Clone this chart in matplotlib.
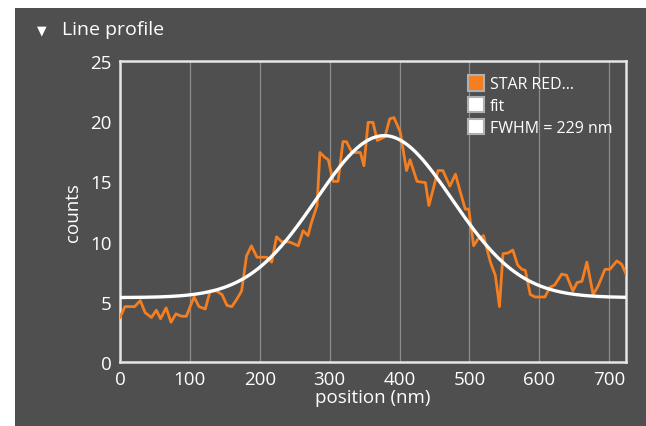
import numpy as np
import matplotlib
matplotlib.use('Agg')
import matplotlib.pyplot as plt
from matplotlib.patches import Patch

plt.rcParams['font.family'] = ['Open Sans', 'DejaVu Sans']

pos_nm = [0, 7, 21, 29, 36, 45, 52, 58, 66, 73, 80, 88, 95, 99, 106, 113, 122,
          129, 138, 146, 153, 160, 167, 174, 181, 188, 196, 210, 217, 224, 231,
          243, 255, 262, 269, 274, 282, 286, 293, 298, 305, 312, 319, 324, 332,
          344, 349, 355, 362, 368, 379, 386, 392, 401, 410, 415, 425, 437, 442,
          455, 462, 472, 480, 487, 494, 499, 506, 512, 520, 530, 537, 543, 548,
          555, 562, 569, 575, 580, 587, 594, 608, 615, 622, 632, 639, 648, 654,
          661, 668, 677, 684, 694, 701, 711, 718, 724]
counts = [3.7, 4.6, 4.6, 5.1, 4.1, 3.7, 4.3, 3.6, 4.5, 3.3, 4.0, 3.8, 3.8, 4.4,
          5.4, 4.6, 4.4, 5.9, 5.9, 5.6, 4.7, 4.6, 5.2, 5.9, 8.8, 9.65, 8.7, 8.7,
          8.3, 10.4, 10.0, 9.96, 9.65, 10.9, 10.5, 11.6, 13.0, 17.4, 17.0, 16.8,
          15.0, 15.0, 18.3, 18.3, 17.4, 17.4, 16.3, 19.9, 19.9, 18.4, 18.7, 20.2,
          20.3, 19.1, 15.9, 16.8, 15.0, 14.9, 13.0, 15.9, 15.9, 14.6, 15.6, 14.1,
          12.7, 12.7, 9.65, 10.2, 10.5, 8.3, 7.2, 4.6, 9.0, 9.05, 9.3, 8.05, 7.7,
          7.6, 5.6, 5.4, 5.4, 6.2, 6.4, 7.3, 7.2, 5.9, 6.6, 6.7, 8.3, 5.6, 6.3,
          7.7, 7.7, 8.4, 8.1, 7.3]

# gaussian fit parameters
fit_offset = 5.35
fit_amp = 13.45
fit_center = 378
fit_fwhm = 229

bg = '#4f4f4f'
orange = '#f57f20'

fig = plt.figure(figsize=(6.46, 4.27), dpi=100, facecolor='white')
# dark panel behind everything
fig.patches.append(plt.Rectangle((15 / 646, 0), 1, 1 - 9 / 427, transform=fig.transFigure,
                                 facecolor=bg, edgecolor='none', zorder=-10))
fig.text(37 / 646, 1 - 31 / 427, '\u25BC', color='white', fontsize=9, va='center',
         family=['DejaVu Sans'])
fig.text(62 / 646, 1 - 30 / 427, 'Line profile', color='white', fontsize=14, va='center')

ax = fig.add_axes([120 / 646, 1 - 363 / 427, 506 / 646, 301 / 427])
ax.set_facecolor(bg)

xf = np.linspace(0, 724, 400)
sigma = fit_fwhm / (2 * np.sqrt(2 * np.log(2)))
yf = fit_offset + fit_amp * np.exp(-(xf - fit_center) ** 2 / (2 * sigma ** 2))

ax.plot(pos_nm, counts, color=orange, lw=2.0, zorder=3)
ax.plot(xf, yf, color='white', lw=2.4, zorder=4)

ax.set_xlim(0, 724)
ax.set_ylim(0, 25)
ax.set_xticks(range(0, 701, 100))
ax.set_yticks(range(0, 26, 5))
ax.grid(axis='x', color='#8c8c8c', lw=0.9)
ax.grid(axis='y', visible=False)
ax.set_axisbelow(True)
for s in ax.spines.values():
    s.set_color('#e6e6e6')
    s.set_linewidth(1.8)
ax.tick_params(length=0, colors='white', labelsize=13.5)
ax.tick_params(axis='x', pad=6)
ax.tick_params(axis='y', pad=6)
ax.set_xlabel('position (nm)', color='white', fontsize=13.5, labelpad=0)
ax.set_ylabel('counts', color='white', fontsize=13.5, labelpad=6)

handles = [Patch(facecolor=orange, edgecolor='#b0b0b0', lw=1.5),
           Patch(facecolor='white', edgecolor='#b0b0b0', lw=1.5),
           Patch(facecolor='white', edgecolor='#b0b0b0', lw=1.5)]
leg = ax.legend(handles, ['STAR RED...', 'fit', 'FWHM = 229 nm'], loc='upper right',
                frameon=False, handlelength=1.0, handleheight=1.1, handletextpad=0.35,
                labelspacing=0.3, fontsize=11.5, borderaxespad=0.3,
                bbox_to_anchor=(0.995, 0.99))
for t in leg.get_texts():
    t.set_color('white')

fig.savefig('out.png', dpi=100, facecolor='white')
